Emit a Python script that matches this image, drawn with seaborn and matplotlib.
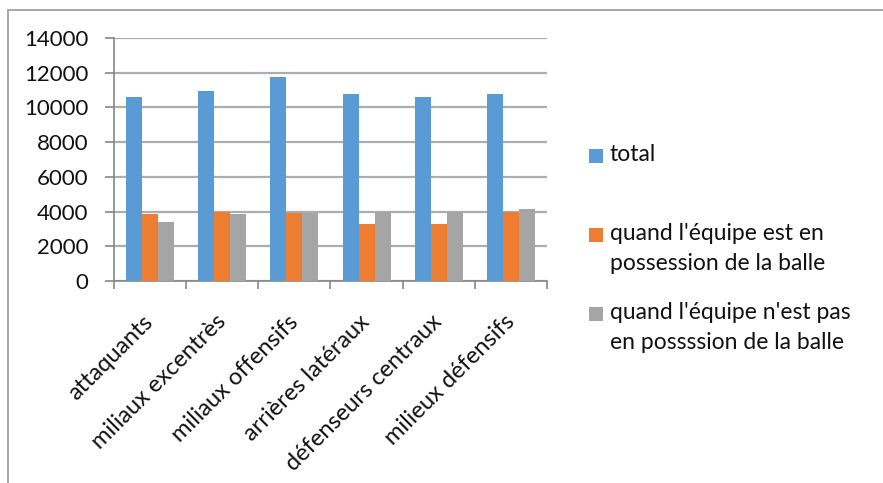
import matplotlib
matplotlib.use("Agg")
import matplotlib.pyplot as plt
from matplotlib.patches import Rectangle
import seaborn as sns
import pandas as pd

# Données : nombre de courses par poste
postes = ["attaquants", "miliaux excentrès", "miliaux offensifs",
          "arrières latéraux", "défenseurs centraux", "milieux défensifs"]
total = [10600, 10950, 11750, 10750, 10600, 10750]
avec_ballon = [3870, 4000, 3920, 3290, 3290, 4000]
sans_ballon = [3400, 3870, 3920, 4000, 4000, 4150]

series = ["total",
          "quand l'équipe est en\npossession de la balle",
          "quand l'équipe n'est pas\nen possssion de la balle"]
couleurs = ["#5B9BD5", "#ED7D31", "#A5A5A5"]
yticks = [0, 2000, 4000, 6000, 8000, 10000, 12000, 14000]

df = pd.DataFrame({
    "poste": postes * 3,
    "valeur": total + avec_ballon + sans_ballon,
    "serie": [series[0]] * 6 + [series[1]] * 6 + [series[2]] * 6,
})

sns.set_theme(style="white")
plt.rcParams["font.family"] = ["Lato", "DejaVu Sans"]

W, H = 883, 483
fig = plt.figure(figsize=(W / 100, H / 100), dpi=100)
ax = fig.add_axes([114 / W, 1 - 281 / H, (547 - 114) / W, (281 - 38) / H])

sns.barplot(data=df, x="poste", y="valeur", hue="serie", order=postes,
            hue_order=series, palette=couleurs, width=0.665,
            linewidth=0, saturation=1, legend=False, ax=ax, zorder=3)

grid_c = "#ADADAD"
axis_c = "#868686"
ax.set_ylim(0, 14000)
ax.set_xlim(-0.5, len(postes) - 0.5)
ax.set_yticks(yticks)
ax.set_yticklabels([str(v) for v in yticks])
ax.yaxis.grid(True, color=grid_c, linewidth=1.6, zorder=0)
ax.set_axisbelow(True)
ax.set_xlabel("")
ax.set_ylabel("")

for s in ["top", "right"]:
    ax.spines[s].set_visible(False)
for s in ["left", "bottom"]:
    ax.spines[s].set_color(axis_c)
    ax.spines[s].set_linewidth(1.2)

ax.tick_params(axis="y", which="major", left=True, length=6.5, width=1.2,
               color=axis_c, labelsize=16, labelcolor="#111111", pad=12)
# étiquettes au centre des groupes, graduations aux séparations
ax.set_xticks(range(len(postes)))
ax.set_xticks([i - 0.5 for i in range(len(postes) + 1)], minor=True)
ax.tick_params(axis="x", which="major", bottom=False, length=0,
               labelsize=17, labelcolor="#111111", pad=27)
ax.tick_params(axis="x", which="minor", bottom=True, length=5.5,
               width=1.2, color=axis_c)
for lab in ax.get_xticklabels():
    lab.set_rotation(45)
    lab.set_ha("right")
    lab.set_va("center")
    lab.set_rotation_mode("anchor")

# légende à droite du graphique
leg_y = [156, 235, 314]
for name, col, y in zip(series, couleurs, leg_y):
    fig.add_artist(Rectangle((589 / W, 1 - (y + 7) / H), 14 / W, 14 / H,
                             transform=fig.transFigure, color=col, lw=0))
    fig.text(610 / W, 1 - (y - 12) / H, name, fontsize=16.5, color="#111111",
             ha="left", va="top", linespacing=1.55)

# cadre du graphique
fig.add_artist(Rectangle((8 / W, -0.1), 1.2, 1 - 10 / H + 0.1,
                         transform=fig.transFigure, fill=False,
                         edgecolor="#A0A0A0", lw=1.3, clip_on=False))

fig.savefig("out.png", dpi=100)
